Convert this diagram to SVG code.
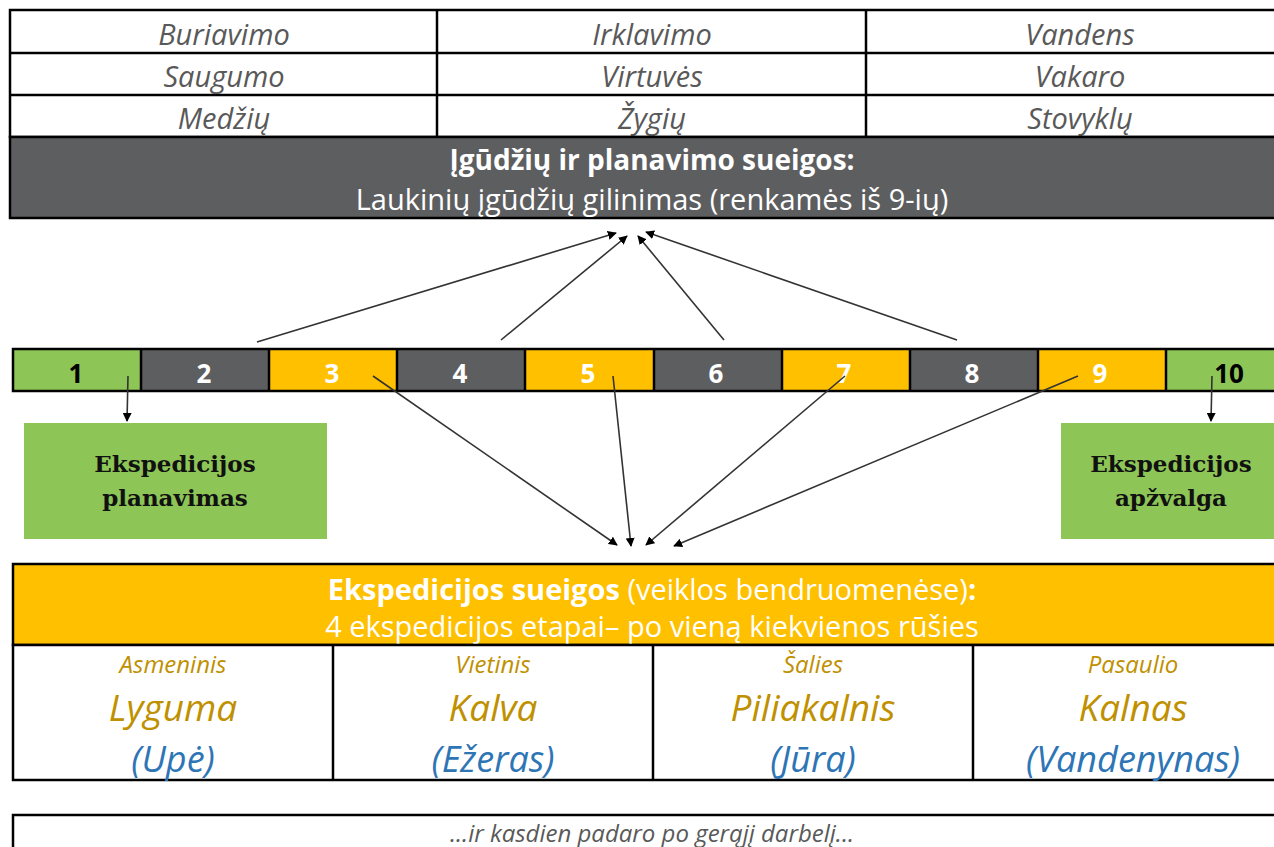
<svg xmlns="http://www.w3.org/2000/svg" width="1274" height="847" viewBox="0 0 1274 847">
<style>
.item{font-family:"Open Sans","Noto Sans",sans-serif;font-style:italic;font-size:29px;fill:#595959;text-anchor:middle}
.wt{font-family:"Open Sans","Noto Sans",sans-serif;fill:#ffffff;text-anchor:middle}
.num{font-family:"Open Sans","Noto Sans",sans-serif;font-weight:bold;font-size:26px;text-anchor:middle;fill:#ffffff}
.num.dk{fill:#000000}
.bord{stroke:#000;stroke-width:2.5}
.grid{stroke:#000;stroke-width:2.5}
.ser{font-family:"DejaVu Serif","Liberation Serif",serif;font-weight:bold;font-size:23px;fill:#111;text-anchor:middle}
.lab{font-family:"Open Sans","Noto Sans",sans-serif;font-style:italic;text-anchor:middle}
.gold{fill:#BF9000}
.blue{fill:#2E75B6}
.conn line{stroke:#333;stroke-width:1.6;marker-end:url(#ah)}
</style>
<defs>
<marker id="ah" viewBox="0 0 10 10" refX="9" refY="5" markerWidth="9" markerHeight="9" markerUnits="userSpaceOnUse" orient="auto"><path d="M0,0 L10,5 L0,10 z" fill="#000"/></marker>
</defs>
<rect width="1274" height="847" fill="#fff"/>

<g id="skills-table">
<rect x="10" y="10" width="1280" height="127" fill="#fff" class="bord"/>
<line x1="10" y1="53" x2="1290" y2="53" class="grid"/>
<line x1="10" y1="95" x2="1290" y2="95" class="grid"/>
<line x1="437" y1="10" x2="437" y2="137" class="grid"/>
<line x1="866" y1="10" x2="866" y2="137" class="grid"/>
<text class="item" x="224" y="45">Buriavimo</text>
<text class="item" x="652" y="45">Irklavimo</text>
<text class="item" x="1080" y="45">Vandens</text>
<text class="item" x="224" y="87">Saugumo</text>
<text class="item" x="652" y="87">Virtuvės</text>
<text class="item" x="1080" y="87">Vakaro</text>
<text class="item" x="224" y="129">Medžių</text>
<text class="item" x="652" y="129">Žygių</text>
<text class="item" x="1080" y="129">Stovyklų</text>
</g>

<g id="skills-header">
<rect x="10" y="137" width="1280" height="81" fill="#5D5E60" class="bord"/>
<text class="wt" x="652" y="170" font-size="28" font-weight="bold">Įgūdžių ir planavimo sueigos:</text>
<text class="wt" x="652" y="210" font-size="29">Laukinių įgūdžių gilinimas (renkamės iš 9-ių)</text>
</g>

<g id="timeline">
<rect x="13" y="349" width="128" height="42" fill="#8DC556"/>
<rect x="141" y="349" width="128" height="42" fill="#5D5E60"/>
<rect x="269" y="349" width="128" height="42" fill="#FFC000"/>
<rect x="397" y="349" width="128" height="42" fill="#5D5E60"/>
<rect x="525" y="349" width="129" height="42" fill="#FFC000"/>
<rect x="654" y="349" width="128" height="42" fill="#5D5E60"/>
<rect x="782" y="349" width="128" height="42" fill="#FFC000"/>
<rect x="910" y="349" width="128" height="42" fill="#5D5E60"/>
<rect x="1038" y="349" width="128" height="42" fill="#FFC000"/>
<rect x="1166" y="349" width="128" height="42" fill="#8DC556"/>
<rect x="13" y="349" width="1290" height="42" fill="none" class="bord"/>
<g class="grid">
<line x1="141" y1="349" x2="141" y2="391"/><line x1="269" y1="349" x2="269" y2="391"/>
<line x1="397" y1="349" x2="397" y2="391"/><line x1="525" y1="349" x2="525" y2="391"/>
<line x1="654" y1="349" x2="654" y2="391"/><line x1="782" y1="349" x2="782" y2="391"/>
<line x1="910" y1="349" x2="910" y2="391"/><line x1="1038" y1="349" x2="1038" y2="391"/>
<line x1="1166" y1="349" x2="1166" y2="391"/>
</g>
<text class="num dk" x="76" y="383">1</text>
<text class="num" x="204" y="383">2</text>
<text class="num" x="332" y="383">3</text>
<text class="num" x="460" y="383">4</text>
<text class="num" x="588" y="383">5</text>
<text class="num" x="716" y="383">6</text>
<text class="num" x="844" y="383">7</text>
<text class="num" x="972" y="383">8</text>
<text class="num" x="1100" y="383">9</text>
<text class="num dk" x="1229" y="383">10</text>
</g>

<g id="planning-box">
<rect x="24" y="423" width="303" height="116" fill="#8DC556"/>
<text class="ser" x="175" y="472">Ekspedicijos</text>
<text class="ser" x="175" y="506">planavimas</text>
</g>

<g id="review-box">
<rect x="1061" y="423" width="220" height="116" fill="#8DC556"/>
<text class="ser" x="1171" y="472">Ekspedicijos</text>
<text class="ser" x="1171" y="506">apžvalga</text>
</g>

<g id="connectors" class="conn">
<line x1="257" y1="342" x2="616" y2="233"/>
<line x1="501" y1="340" x2="627" y2="236"/>
<line x1="724" y1="340" x2="638" y2="236"/>
<line x1="957" y1="340" x2="646" y2="232"/>
<line x1="373" y1="376" x2="617" y2="545"/>
<line x1="613" y1="376" x2="631" y2="546"/>
<line x1="845" y1="376" x2="646" y2="545"/>
<line x1="1078" y1="376" x2="674" y2="546"/>
<line x1="128" y1="376" x2="127" y2="421"/>
<line x1="1212" y1="376" x2="1211" y2="421"/>
</g>

<g id="expedition-header">
<rect x="13" y="564" width="1290" height="81" fill="#FFC000" class="bord"/>
<text class="wt" x="652" y="600" font-size="29"><tspan font-weight="bold">Ekspedicijos sueigos</tspan> (veiklos bendruomenėse)<tspan font-weight="bold">:</tspan></text>
<text class="wt" x="652" y="637" font-size="29">4 ekspedicijos etapai– po vieną kiekvienos rūšies</text>
</g>

<g id="expedition-stages">
<rect x="13" y="645" width="1290" height="135" fill="#fff" class="bord"/>
<line x1="333" y1="645" x2="333" y2="780" class="grid"/>
<line x1="653" y1="645" x2="653" y2="780" class="grid"/>
<line x1="973" y1="645" x2="973" y2="780" class="grid"/>
<text class="lab gold" x="173" y="673" font-size="24">Asmeninis</text>
<text class="lab gold" x="173" y="721" font-size="37">Lyguma</text>
<text class="lab blue" x="173" y="772" font-size="36">(Upė)</text>
<text class="lab gold" x="493" y="673" font-size="24">Vietinis</text>
<text class="lab gold" x="493" y="721" font-size="37">Kalva</text>
<text class="lab blue" x="493" y="772" font-size="36">(Ežeras)</text>
<text class="lab gold" x="813" y="673" font-size="24">Šalies</text>
<text class="lab gold" x="813" y="721" font-size="37">Piliakalnis</text>
<text class="lab blue" x="813" y="772" font-size="36">(Jūra)</text>
<text class="lab gold" x="1133" y="673" font-size="24">Pasaulio</text>
<text class="lab gold" x="1133" y="721" font-size="37">Kalnas</text>
<text class="lab blue" x="1133" y="772" font-size="36">(Vandenynas)</text>
</g>

<g id="daily-deed">
<rect x="13" y="815" width="1290" height="60" fill="#fff" class="bord"/>
<text class="item" x="652" y="842" style="font-size:24px">...ir kasdien padaro po gerąjį darbelį...</text>
</g>
</svg>
